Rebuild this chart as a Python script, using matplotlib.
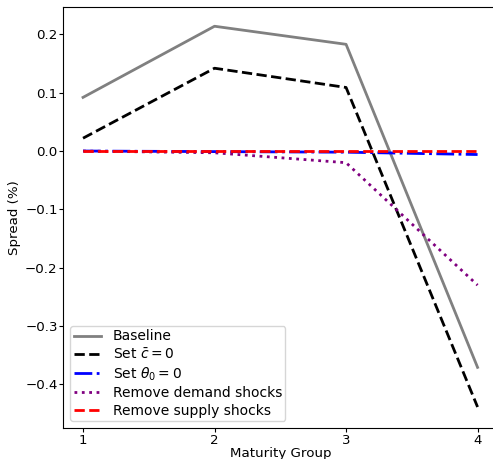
import matplotlib
matplotlib.use("Agg")
import matplotlib.pyplot as plt

maturity = [1, 2, 3, 4]
baseline = [0.092, 0.214, 0.183, -0.371]
set_cbar0 = [0.022, 0.142, 0.109, -0.439]
set_theta0 = [0.0, -0.001, -0.002, -0.006]
no_demand = [0.0, -0.003, -0.020, -0.230]
no_supply = [0.0, 0.0, 0.0, 0.0]

fig = plt.figure(figsize=(4.93, 4.59), dpi=100)
ax = fig.add_axes([63.3/493, (459-428)/459, 434/493, 421/459])

ax.plot(maturity, baseline, color='gray', lw=2, ls='-', label='Baseline')
ax.plot(maturity, set_cbar0, color='black', lw=2, ls='--', label=r'Set $\bar{c} = 0$')
ax.plot(maturity, set_theta0, color='blue', lw=2, ls='-.', label=r'Set $\theta_0 = 0$')
ax.plot(maturity, no_demand, color='purple', lw=2, ls=':', label='Remove demand shocks')
ax.plot(maturity, no_supply, color='red', lw=2, ls='--', label='Remove supply shocks')

ax.set_xticks(maturity)
ax.set_xlim(0.85, 4.15)
ax.set_ylim(-0.475, 0.247)
ax.tick_params(length=3, pad=1, width=0.8, labelsize=9.6)
ax.set_xlabel('Maturity Group', labelpad=0, fontsize=9.6)
ax.set_ylabel('Spread (%)', labelpad=3, fontsize=9.6)
ax.legend(loc='lower left', labelspacing=0.25, borderpad=0.25)

fig.savefig('out.png', dpi=100)
